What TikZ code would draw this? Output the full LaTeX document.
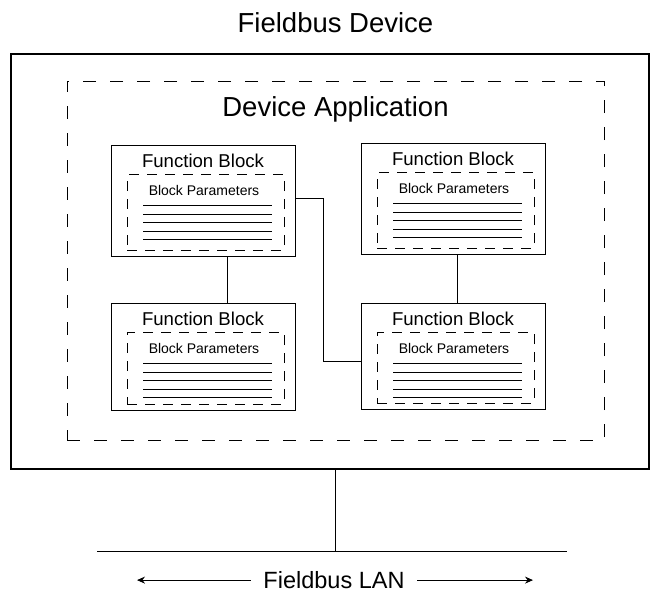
\documentclass[tikz,border=0pt]{standalone}
\usepackage{fontspec}
\setmainfont{Liberation Sans}
\usetikzlibrary{calc,arrows.meta}
\tikzset{
  outerbox/.style={draw, line width=1.1pt, rectangle, inner sep=0pt, outer sep=0pt},
  appbox/.style={draw, line width=1pt, rectangle, inner sep=0pt, outer sep=0pt, dash pattern=on 13pt off 14pt},
  fbbox/.style={draw, line width=1pt, rectangle, inner sep=0pt, outer sep=0pt},
  inbox/.style={draw, line width=1pt, rectangle, inner sep=0pt, outer sep=0pt, dash pattern=on 10pt off 8pt},
  bpline/.style={line width=0.9pt},
  conn/.style={line width=0.9pt},
  arr/.style={line width=0.9pt, -{Stealth[length=8pt,width=7pt]}},
  bigtext/.style={font=\fontsize{27.5}{32}\selectfont, inner sep=0pt},
  lantext/.style={font=\fontsize{23.5}{28}\selectfont, inner ysep=0pt, inner xsep=12.5pt},
  fbtext/.style={font=\fontsize{18.6}{22}\selectfont, inner sep=0pt},
  bptext/.style={font=\fontsize{14}{17}\selectfont, inner sep=0pt},
}
% #1 name, #2 left x, #3 top y, #4 height
\newcommand{\fblk}[4]{%
  \node[fbbox, minimum width=184pt, minimum height=#4pt, anchor=north west] (#1) at (#2,#3) {};
  \node[fbtext, anchor=base] (#1t) at ($(#1.north)+(0,-22pt)$) {Function Block};
  \node[inbox, minimum width=157pt, minimum height={#4pt-35.5pt}, anchor=north west] (#1i) at ($(#1.north west)+(16pt,-29.5pt)$) {};
  \node[bptext, anchor=base] (#1p) at ($(#1.north)+(1pt,-50.5pt)$) {Block Parameters};
  \foreach \yy in {60.5,69,77.5,86,94.5}{
    \draw[bpline] ($(#1.north west)+(32pt,-\yy pt)$) -- ++(129pt,0pt);
  }
}
\begin{document}
\begin{tikzpicture}[x=1pt,y=-1pt]
\useasboundingbox (0,0) rectangle (650,592);
% title
\node[bigtext, anchor=base] (title) at (335.5,32.7) {Fieldbus Device};
% device box
\node[outerbox, minimum width=638pt, minimum height=415pt, anchor=north west] (dev) at (11,54) {};
% application box
\node[appbox, minimum width=537pt, minimum height=359pt, anchor=north west] (app) at (67,81) {};
\node[bigtext, anchor=base] (apptitle) at (335.5,116) {Device Application};
% function blocks
\fblk{fba}{111}{145}{111}
\fblk{fbb}{111}{303}{107}
\fblk{fbc}{361}{143}{111}
\fblk{fbd}{361}{303}{106}
% connectors
\coordinate (v1) at (227,0);
\coordinate (v2) at (457,0);
\coordinate (h1) at (323,198);
\coordinate (h2) at (0,361);
\draw[conn] (fba.south -| v1) -- (fbb.north -| v1);
\draw[conn] (fbc.south -| v2) -- (fbd.north -| v2);
\draw[conn] (fba.east |- h1) -- (h1) |- (fbd.west |- h2);
% LAN
\coordinate (busL) at (97,551);
\coordinate (busR) at (567,551);
\coordinate (drop) at (335,551);
\draw[conn] (dev.south -| drop) -- (drop);
\draw[conn] (busL) -- (busR);
\node[lantext, anchor=base] (lan) at (334,588.5) {Fieldbus LAN};
\coordinate (arrL) at (137,0);
\coordinate (arrR) at (533,0);
\draw[arr] (lan.west) -- (lan.west -| arrL);
\draw[arr] (lan.east) -- (lan.east -| arrR);
\end{tikzpicture}
\end{document}
